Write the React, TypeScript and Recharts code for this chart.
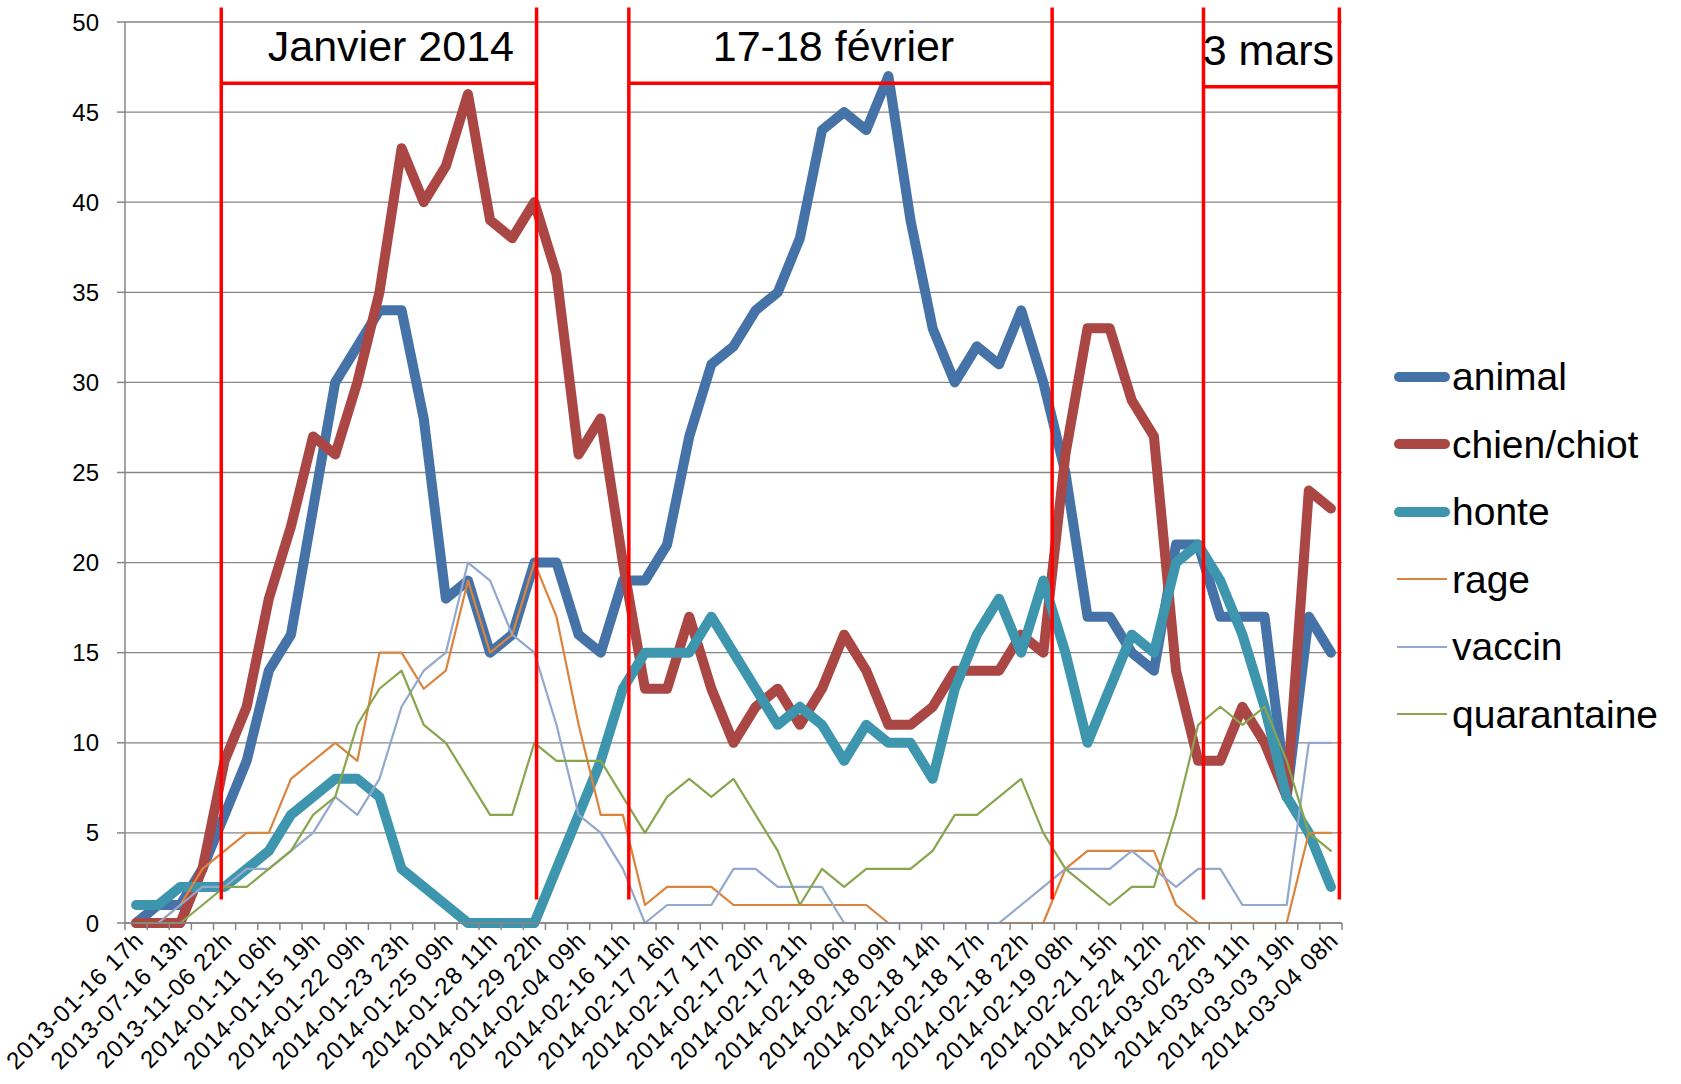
import { LineChart, Line, XAxis, YAxis, CartesianGrid, ReferenceLine, Legend } from "recharts";

const tickLabels = [
  "2013-01-16 17h", "2013-07-16 13h", "2013-11-06 22h", "2014-01-11 06h",
  "2014-01-15 19h", "2014-01-22 09h", "2014-01-23 23h", "2014-01-25 09h",
  "2014-01-28 11h", "2014-01-29 22h", "2014-02-04 09h", "2014-02-16 11h",
  "2014-02-17 16h", "2014-02-17 17h", "2014-02-17 20h", "2014-02-17 21h",
  "2014-02-18 06h", "2014-02-18 09h", "2014-02-18 14h", "2014-02-18 17h",
  "2014-02-18 22h", "2014-02-19 08h", "2014-02-21 15h", "2014-02-24 12h",
  "2014-03-02 22h", "2014-03-03 11h", "2014-03-03 19h", "2014-03-04 08h",
];

const animal = [
  0, 1, 1, 3, 6, 9, 14, 16, 23, 30, 32, 34, 34, 28, 18, 19, 15, 16, 20, 20,
  16, 15, 19, 19, 21, 27, 31, 32, 34, 35, 38, 44, 45, 44, 47, 39, 33, 30, 32, 31,
  34, 30, 25, 17, 17, 15, 14, 21, 21, 17, 17, 17, 7, 17, 15,
];
const chien = [
  0, 0, 0, 3, 9, 12, 18, 22, 27, 26, 30, 35, 43, 40, 42, 46, 39, 38, 40, 36,
  26, 28, 20, 13, 13, 17, 13, 10, 12, 13, 11, 13, 16, 14, 11, 11, 12, 14, 14, 14,
  16, 15, 26, 33, 33, 29, 27, 14, 9, 9, 12, 10, 7, 24, 23,
];
const honte = [
  1, 1, 2, 2, 2, 3, 4, 6, 7, 8, 8, 7, 3, 2, 1, 0, 0, 0, 0, 3,
  6, 9, 13, 15, 15, 15, 17, 15, 13, 11, 12, 11, 9, 11, 10, 10, 8, 13, 16, 18,
  15, 19, 15, 10, 13, 16, 15, 20, 21, 19, 16, 12, 7, 5, 2,
];
const rage = [
  0, 0, 1, 3, 4, 5, 5, 8, 9, 10, 9, 15, 15, 13, 14, 19, 15, 16, 20, 17,
  11, 6, 6, 1, 2, 2, 2, 1, 1, 1, 1, 1, 1, 1, 0, 0, 0, 0, 0, 0,
  0, 0, 3, 4, 4, 4, 4, 1, 0, 0, 0, 0, 0, 5, 5,
];
const vaccin = [
  0, 0, 1, 2, 2, 3, 3, 4, 5, 7, 6, 8, 12, 14, 15, 20, 19, 16, 15, 11,
  6, 5, 3, 0, 1, 1, 1, 3, 3, 2, 2, 2, 0, 0, 0, 0, 0, 0, 0, 0,
  1, 2, 3, 3, 3, 4, 3, 2, 3, 3, 1, 1, 1, 10, 10,
];
const quarantaine = [
  0, 0, 0, 1, 2, 2, 3, 4, 6, 7, 11, 13, 14, 11, 10, 8, 6, 6, 10, 9,
  9, 9, 7, 5, 7, 8, 7, 8, 6, 4, 1, 3, 2, 3, 3, 3, 4, 6, 6, 7,
  8, 5, 3, 2, 1, 2, 2, 6, 11, 12, 11, 12, 9, 5, 4,
];

const series = [
  { key: "animal", values: animal, color: "#4572A7", width: 10 },
  { key: "chien/chiot", values: chien, color: "#AA4643", width: 10 },
  { key: "honte", values: honte, color: "#3D96AE", width: 10 },
  { key: "rage", values: rage, color: "#DB843D", width: 2.2 },
  { key: "vaccin", values: vaccin, color: "#92A8CD", width: 2.2 },
  { key: "quarantaine", values: quarantaine, color: "#89A54E", width: 2.2 },
];

// periods marked in red, in category units
const periods = [
  { label: "Janvier 2014", from: 3.85, to: 18.1, bar: 46.6 },
  { label: "17-18 février", from: 22.27, to: 41.4, bar: 46.6 },
  { label: "3 mars", from: 48.24, to: 54.38, bar: 46.4 },
];
const periodLabelShift = [12, -7, -3];

const data = animal.map((_, i) => {
  const row: Record<string, number> = { idx: i };
  series.forEach((s) => (row[s.key] = s.values[i]));
  return row;
});

const xTicks = [
  ...Array.from({ length: animal.length + 1 }, (_, i) => i - 0.5),
  ...tickLabels.map((_, i) => i * 2),
].sort((a, b) => a - b);

const FONT = "'Liberation Sans', Arial, sans-serif";

function XTick(props: any) {
  const { x, y, payload } = props;
  const v = payload.value;
  if (v % 1 !== 0) {
    return <line x1={x} x2={x} y1={y} y2={y + 7} stroke="#868686" strokeWidth={1.5} />;
  }
  const tx = x + 3;
  const ty = y + 13;
  return (
    <text
      x={tx}
      y={ty}
      dy="0.35em"
      textAnchor="end"
      transform={`rotate(-45, ${tx}, ${ty})`}
      fontSize={24}
      letterSpacing={0.9}
      fill="#000"
      fontFamily={FONT}
    >
      {tickLabels[v / 2]}
    </text>
  );
}

function LegendBox() {
  return (
    <div style={{ fontFamily: FONT, fontSize: 39, color: "#000" }}>
      {series.map((s) => (
        <div key={s.key} style={{ display: "flex", alignItems: "center", height: 67.5 }}>
          <svg width={60} height={20} style={{ flex: "none" }}>
            <line
              x1={s.width > 5 ? 7 : 5}
              x2={s.width > 5 ? 53 : 55}
              y1={10}
              y2={10}
              stroke={s.color}
              strokeWidth={s.width}
              strokeLinecap={s.width > 5 ? "round" : "butt"}
            />
          </svg>
          <span style={{ lineHeight: 1 }}>{s.key}</span>
        </div>
      ))}
    </div>
  );
}

export default function App() {
  return (
    <div style={{ position: "absolute", left: 0, top: 0, background: "#fff", fontFamily: FONT }}>
      <LineChart
        width={1681}
        height={1084}
        data={data}
        margin={{ top: 22, right: 339, bottom: 0, left: 25 }}
      >
        <CartesianGrid vertical={false} stroke="#868686" strokeWidth={1.3} />
        <XAxis
          type="number"
          dataKey="idx"
          domain={[-0.5, 54.5]}
          ticks={xTicks}
          interval={0}
          allowDecimals
          height={161}
          tickSize={0}
          tickMargin={0}
          tickLine={false}
          axisLine={{ stroke: "#868686", strokeWidth: 1.5 }}
          tick={<XTick />}
        />
        <YAxis
          domain={[0, 50]}
          ticks={[0, 5, 10, 15, 20, 25, 30, 35, 40, 45, 50]}
          interval={0}
          width={100}
          tickSize={8}
          tickMargin={18}
          axisLine={{ stroke: "#868686", strokeWidth: 1.5 }}
          tickLine={{ stroke: "#868686", strokeWidth: 1.5 }}
          tick={{ fill: "#000", fontSize: 24, fontFamily: FONT }}
        />
        {series.map((s) => (
          <Line
            key={s.key}
            type="linear"
            dataKey={s.key}
            stroke={s.color}
            strokeWidth={s.width}
            strokeLinejoin="round"
            strokeLinecap="round"
            dot={false}
            activeDot={false}
            isAnimationActive={false}
          />
        ))}
        {periods.flatMap((p, i) => [
          <ReferenceLine
            key={`a${i}`}
            segment={[{ x: p.from, y: 1.3 }, { x: p.from, y: 50.8 }]}
            stroke="#FF0000"
            strokeWidth={3.5}
            ifOverflow="visible"
          />,
          <ReferenceLine
            key={`b${i}`}
            segment={[{ x: p.to, y: 1.3 }, { x: p.to, y: 50.8 }]}
            stroke="#FF0000"
            strokeWidth={3.5}
            ifOverflow="visible"
          />,
          <ReferenceLine
            key={`c${i}`}
            segment={[{ x: p.from, y: p.bar }, { x: p.to, y: p.bar }]}
            stroke="#FF0000"
            strokeWidth={3.5}
            ifOverflow="visible"
            label={(lp: any) => {
              const vb = lp.viewBox || {};
              const cx = (vb.x ?? 0) + (vb.width ?? 0) / 2 + periodLabelShift[i];
              return (
                <text x={cx} y={(vb.y ?? 0) - 22} textAnchor="middle" fontSize={43} fill="#000" fontFamily={FONT}>
                  {p.label}
                </text>
              );
            }}
          />,
        ])}
        <Legend
          verticalAlign="middle"
          align="center"
          layout="horizontal"
          wrapperStyle={{ left: 1392, top: 343, right: "auto", width: 289, height: 410 }}
          content={() => <LegendBox />}
        />
      </LineChart>
    </div>
  );
}
